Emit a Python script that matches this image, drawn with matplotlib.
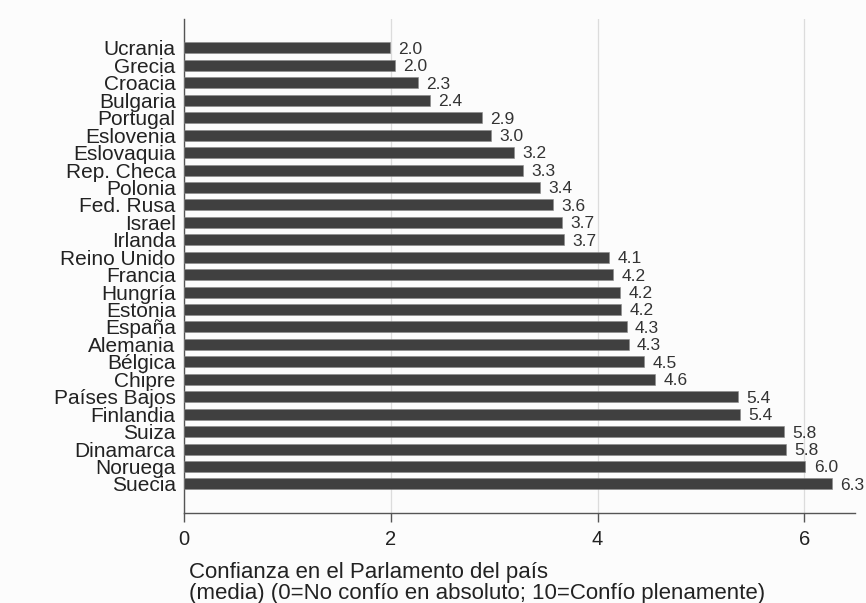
import numpy as np
import matplotlib
matplotlib.use('Agg')
import matplotlib.pyplot as plt
import matplotlib.ticker as ticker

plt.rcParams['font.family'] = ['Liberation Sans', 'DejaVu Sans']

countries = ['Ucrania', 'Grecia', 'Croacia', 'Bulgaria', 'Portugal', 'Eslovenia',
             'Eslovaquia', 'Rep. Checa', 'Polonia', 'Fed. Rusa', 'Israel', 'Irlanda',
             'Reino Unido', 'Francia', 'Hungría', 'Estonia', 'España', 'Alemania',
             'Bélgica', 'Chipre', 'Países Bajos', 'Finlandia', 'Suiza', 'Dinamarca',
             'Noruega', 'Suecia']
values = [1.99, 2.04, 2.26, 2.38, 2.88, 2.97, 3.19, 3.28, 3.44, 3.57, 3.66, 3.68,
          4.11, 4.15, 4.22, 4.23, 4.28, 4.30, 4.45, 4.56, 5.36, 5.38, 5.80, 5.82,
          6.01, 6.27]
value_labels = ['2.0', '2.0', '2.3', '2.4', '2.9', '3.0', '3.2', '3.3', '3.4', '3.6',
                '3.7', '3.7', '4.1', '4.2', '4.2', '4.2', '4.3', '4.3', '4.5', '4.6',
                '5.4', '5.4', '5.8', '5.8', '6.0', '6.3']
xticks = [0, 2, 4, 6]
xlabel = 'Confianza en el Parlamento del país\n(media) (0=No confío en absoluto; 10=Confío plenamente)'

fig = plt.figure(figsize=(8.66, 6.03), dpi=100, facecolor='#fcfcfc')
ax = fig.add_axes([0.2125, 0.1497, 0.7748, 0.8188])
ax.set_facecolor('#fcfcfc')

pos = np.arange(len(countries))
ax.barh(pos, values, height=0.63, color='#404040', edgecolor='#8a8a8a', linewidth=0.4, zorder=3)

for p, v, lab in zip(pos, values, value_labels):
    ax.annotate(lab, (v, p), xytext=(6, -1), textcoords='offset points',
                ha='left', va='center', fontsize=12.5, color='#333333')

ax.set_ylim(len(countries) - 1 + 1.65, -1.66)
ax.set_xlim(0, 6.49)
ax.set_yticks(pos)
ax.set_yticklabels(countries, fontsize=15, color='#222222')
ax.tick_params(axis='y', length=0, pad=6)
ax.set_xticks(xticks)
ax.tick_params(axis='x', length=6.5, width=1, color='#555555', pad=6,
               labelsize=14.5, labelcolor='#222222')
ax.xaxis.set_minor_locator(ticker.NullLocator())

ax.grid(axis='x', color='#dcdcdc', linewidth=0.9, zorder=0)
ax.grid(axis='y', visible=False)
for s in ['top', 'right']:
    ax.spines[s].set_visible(False)
for s in ['left', 'bottom']:
    ax.spines[s].set_color('#555555')
    ax.spines[s].set_linewidth(1)

# axis title, left aligned under the axis (baseline of the last line)
fig.text(189 / 866, 1 - 599 / 603, xlabel, fontsize=16, color='#222222',
         ha='left', va='baseline', linespacing=1.0)

plt.savefig('out.png', dpi=100, facecolor=fig.get_facecolor())
